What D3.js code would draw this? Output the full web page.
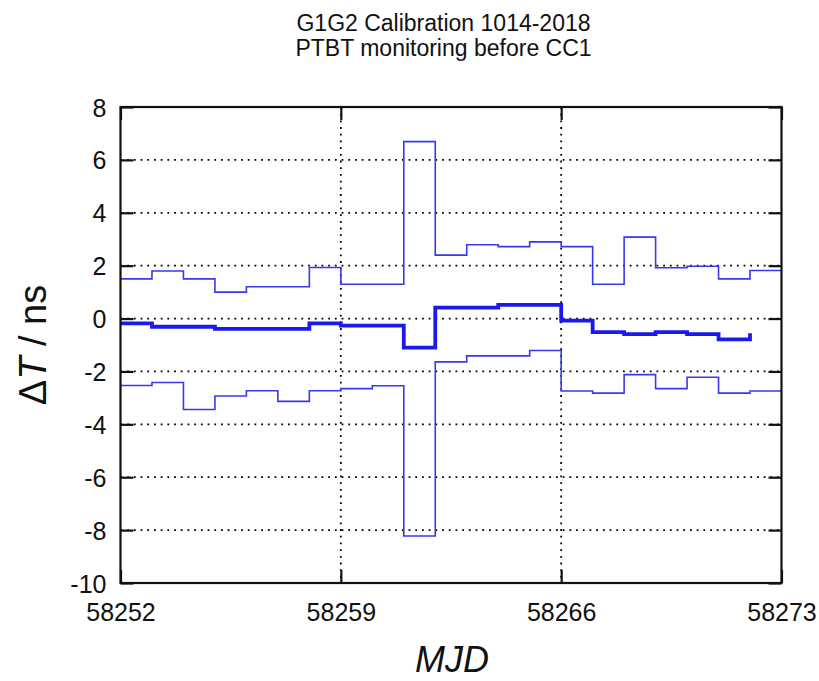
<!DOCTYPE html>
<html><head><meta charset="utf-8">
<script src="https://cdn.jsdelivr.net/npm/d3@7/dist/d3.min.js"></script>
<style>body{margin:0;background:#fff}svg{display:block}text{font-family:"Liberation Sans",Arial,sans-serif}</style>
</head><body>
<svg id="c" width="819" height="681"></svg>
<script>
const titleLines = ["G1G2 Calibration 1014-2018", "PTBT monitoring before CC1"];
const days = [58252,58253,58254,58255,58256,58257,58258,58259,58260,58261,58262,58263,58264,58265,58266,58267,58268,58269,58270,58271,58272];
const upper = [1.5,1.8,1.5,1.0,1.2,1.2,1.93,1.3,1.3,6.69,2.4,2.79,2.72,2.9,2.72,1.3,3.08,1.92,1.98,1.5,1.82];
const mid = [-0.18,-0.31,-0.31,-0.39,-0.39,-0.39,-0.18,-0.27,-0.27,-1.1,0.41,0.41,0.52,0.52,-0.08,-0.51,-0.59,-0.51,-0.59,-0.79,-0.56];
const lower = [-2.53,-2.42,-3.44,-2.93,-2.73,-3.13,-2.73,-2.65,-2.54,-8.22,-1.64,-1.41,-1.41,-1.21,-2.74,-2.82,-2.12,-2.65,-2.22,-2.82,-2.74];
const xTicks = [58252,58259,58266,58273];
const yTicks = [8,6,4,2,0,-2,-4,-6,-8,-10];

const svg = d3.select("#c");
const L=120.5, R=781.5, T=107, B=583;
const x = d3.scaleLinear().domain([58252,58273]).range([L,R]);
const y = d3.scaleLinear().domain([-10,8]).range([B,T]);

// grid
const g = svg.append("g");
g.selectAll(".gy").data(yTicks.filter(v=>v>-10&&v<8)).enter().append("line")
  .attr("x1",L).attr("x2",R).attr("y1",d=>y(d)).attr("y2",d=>y(d))
  .attr("stroke","#000").attr("stroke-width",1.8).attr("stroke-dasharray","1.8,4.9");
g.selectAll(".gx").data(xTicks.filter(v=>v>58252&&v<58273)).enter().append("line")
  .attr("y1",T).attr("y2",B).attr("x1",d=>x(d)).attr("x2",d=>x(d))
  .attr("stroke","#000").attr("stroke-width",1.8).attr("stroke-dasharray","1.8,4.9");

// ticks inward
const tk=13;
const fmt = d=>String(d);
const yAxL = d3.axisLeft(y).tickValues(yTicks).tickSize(-tk).tickPadding(14).tickFormat(fmt);
const yAxR = d3.axisRight(y).tickValues(yTicks).tickSize(-tk).tickFormat("");
const xAxB = d3.axisBottom(x).tickValues(xTicks).tickSize(-tk).tickPadding(20).tickFormat(fmt);
const xAxT = d3.axisTop(x).tickValues(xTicks).tickSize(-tk).tickFormat("");
function style(sel){sel.select(".domain").remove();sel.selectAll("line").attr("stroke","#111").attr("stroke-width",2.2);sel.selectAll("text").attr("font-size",25).attr("fill","#111").attr("font-family","Liberation Sans, Arial, sans-serif");}
svg.append("g").attr("transform",`translate(${L},0)`).call(yAxL).call(style).selectAll("text").attr("dy","0.36em");
svg.append("g").attr("transform",`translate(${R},0)`).call(yAxR).call(style);
svg.append("g").attr("transform",`translate(0,${B})`).call(xAxB).call(style);
svg.append("g").attr("transform",`translate(0,${T})`).call(xAxT).call(style);

// series
const pts = (vals, extend) => {
  const p = days.map((d,i)=>[d,vals[i]]);
  if (extend) p.push([x.domain()[1], vals[vals.length-1]]);
  return p;
};
const line = d3.line().x(d=>x(d[0])).y(d=>y(d[1])).curve(d3.curveStepAfter);
svg.append("path").attr("d",line(pts(upper,true))).attr("fill","none").attr("stroke","#3838ee").attr("stroke-width",1.6);
svg.append("path").attr("d",line(pts(lower,true))).attr("fill","none").attr("stroke","#3838ee").attr("stroke-width",1.6);
svg.append("path").attr("d",line(pts(mid,false))).attr("fill","none").attr("stroke","#1a1aee").attr("stroke-width",3.8);

// frame
svg.append("rect").attr("x",L).attr("y",T).attr("width",R-L).attr("height",B-T)
  .attr("fill","none").attr("stroke","#111").attr("stroke-width",2.2);

// title
svg.selectAll(".tt").data(titleLines).enter().append("text")
  .attr("x",443.5).attr("y",(d,i)=>31+i*24.5).attr("text-anchor","middle")
  .attr("font-size",23).attr("fill","#111").text(d=>d);

// axis labels
const yl = svg.append("text").attr("transform",`translate(46,345) rotate(-90)`)
  .attr("text-anchor","middle").attr("font-size",38).attr("fill","#111");
yl.append("tspan").text("Δ");
yl.append("tspan").attr("font-style","italic").text("T");
yl.append("tspan").text(" / ns");
svg.append("text").attr("x",452).attr("y",672).attr("text-anchor","middle")
  .attr("font-size",36).attr("font-style","italic").attr("fill","#111").text("MJD");
</script>
</body></html>
